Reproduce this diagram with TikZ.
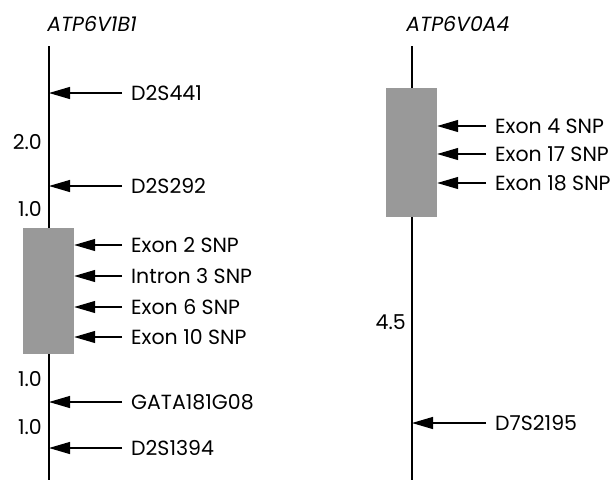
\documentclass[tikz,border=0pt]{standalone}
\usepackage{fontspec}
\setmainfont{Poppins}
\usetikzlibrary{arrows.meta}

\tikzset{
  chrom/.style={line width=1.3pt},
  genebox/.style={fill=black!40, draw=none, inner sep=0pt},
  snp/.style={line width=1.2pt, -{Triangle[length=21pt, width=12pt]}},
  lbl/.style={anchor=west, inner sep=0pt, font=\fontsize{20.5}{24}\selectfont},
  dist/.style={anchor=east, inner sep=0pt, font=\fontsize{20.5}{24}\selectfont},
  gname/.style={inner sep=0pt, font=\fontsize{20.5}{24}\selectfont\itshape}
}

\begin{document}
\begin{tikzpicture}[x=1pt, y=-1pt]
\useasboundingbox (0,0) rectangle (613,480);

% ATP6V1B1
\node[gname] (nameA) at (92,24) {ATP6V1B1};
\coordinate (topA) at (49,46);
\coordinate (botA) at (49,480);
\draw[chrom] (topA) -- (botA);
\node[genebox, minimum width=51pt, minimum height=126pt] (geneA) at (48.5,291) {};

\node[lbl] (d2s441) at (131,93) {D2S441};
\node[lbl] (d2s292) at (131,186) {D2S292};
\node[lbl] (ex2) at (131,245) {Exon 2 SNP};
\node[lbl] (in3) at (131,276) {Intron 3 SNP};
\node[lbl] (ex6) at (131,307) {Exon 6 SNP};
\node[lbl] (ex10) at (131,337) {Exon 10 SNP};
\node[lbl] (gata) at (131,402) {GATA181G08};
\node[lbl] (d2s1394) at (131,448) {D2S1394};

\draw[snp] ([xshift=-9pt]d2s441.west) -- (d2s441.west -| topA);
\draw[snp] ([xshift=-9pt]d2s292.west) -- (d2s292.west -| topA);
\draw[snp] ([xshift=-9pt]ex2.west) -- (ex2.west -| geneA.east);
\draw[snp] ([xshift=-9pt]in3.west) -- (in3.west -| geneA.east);
\draw[snp] ([xshift=-9pt]ex6.west) -- (ex6.west -| geneA.east);
\draw[snp] ([xshift=-9pt]ex10.west) -- (ex10.west -| geneA.east);
\draw[snp] ([xshift=-9pt]gata.west) -- (gata.west -| topA);
\draw[snp] ([xshift=-9pt]d2s1394.west) -- (d2s1394.west -| topA);

\node[dist] (dA1) at (42,142) {2.0};
\node[dist] (dA2) at (42,209) {1.0};
\node[dist] (dA3) at (42,379) {1.0};
\node[dist] (dA4) at (42,427) {1.0};

% ATP6V0A4
\node[gname] (nameB) at (458,24) {ATP6V0A4};
\coordinate (topB) at (412,46);
\coordinate (botB) at (412,480);
\draw[chrom] (topB) -- (botB);
\node[genebox, minimum width=51pt, minimum height=129pt] (geneB) at (411.5,152.5) {};

\node[lbl] (ex4) at (495,126) {Exon 4 SNP};
\node[lbl] (ex17) at (495,154) {Exon 17 SNP};
\node[lbl] (ex18) at (495,183) {Exon 18 SNP};
\node[lbl] (d7s2195) at (495,423) {D7S2195};

\draw[snp] ([xshift=-9pt]ex4.west) -- (ex4.west -| geneB.east);
\draw[snp] ([xshift=-9pt]ex17.west) -- (ex17.west -| geneB.east);
\draw[snp] ([xshift=-9pt]ex18.west) -- (ex18.west -| geneB.east);
\draw[snp] ([xshift=-9pt]d7s2195.west) -- (d7s2195.west -| topB);

\node[dist] (dB1) at (406,322) {4.5};
\end{tikzpicture}
\end{document}
